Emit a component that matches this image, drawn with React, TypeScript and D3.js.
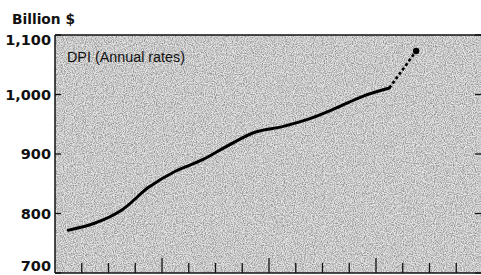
import React from "react";
import * as d3 from "d3";

const quarters = ["Q1","Q2","Q3","Q4","Q5","Q6","Q7","Q8","Q9","Q10","Q11","Q12","Q13","Q14"];
const dpiActual = [772, 784, 806, 844, 871, 890, 915, 937, 946, 959, 977, 997, 1011];
const dpiProjected = [1011, 1073];
const yTicks = [700, 800, 900, 1000, 1100];
const yTickLabels = ["700", "800", "900", "1,000", "1,100"];

const W = 481, H = 275;
const left = 55, right = 483, top = 35, bottom = 273;

export default function App() {
  const x = d3.scaleLinear().domain([0, 16]).range([left, right]);
  const y = d3.scaleLinear().domain([700, 1100]).range([bottom, top]);
  const line = d3.line<number>()
    .x((_, i) => x(i + 0.5))
    .y((d) => y(d))
    .curve(d3.curveCatmullRom.alpha(0.5));
  const projLine = d3.line<number>()
    .x((_, i) => x(i + 12.5))
    .y((d) => y(d));
  const qTicks = d3.range(1, 16);
  const last = dpiProjected[dpiProjected.length - 1];
  return (
    <svg width={W} height={H} style={{ position: "absolute", left: 0, top: 0, background: "#fff" }}>
      <defs>
        <filter id="stipple" x="0" y="0" width="100%" height="100%">
          <feTurbulence type="fractalNoise" baseFrequency="0.9" numOctaves="2" seed="3" result="n" />
          <feColorMatrix type="matrix" values="0 0 0 0 0  0 0 0 0 0  0 0 0 0 0  -1.6 0 0 0 1.05" result="a" />
          <feComposite in="a" in2="SourceGraphic" operator="in" />
        </filter>
      </defs>
      <rect x={left} y={top} width={right - left} height={bottom - top} fill="#e4e4e4" />
      <rect x={left} y={top} width={right - left} height={bottom - top} fill="#555" filter="url(#stipple)" opacity={0.5} />
      <line x1={left} x2={W} y1={top} y2={top} stroke="#111" strokeWidth={1.5} />
      <line x1={left} x2={W} y1={bottom} y2={bottom} stroke="#111" strokeWidth={1.5} />
      <line x1={left} x2={left} y1={top} y2={bottom} stroke="#111" strokeWidth={1.5} />
      {qTicks.map((q) => (
        <line key={q} x1={x(q)} x2={x(q)} y1={bottom} y2={bottom - (q % 4 === 0 ? 15 : 10)} stroke="#111" strokeWidth={1.3} />
      ))}
      {yTicks.map((t, i) => (
        <g key={t}>
          <line x1={left} x2={left + 6} y1={y(t)} y2={y(t)} stroke="#111" strokeWidth={1.3} />
          <line x1={W - 6} x2={W} y1={y(t)} y2={y(t)} stroke="#111" strokeWidth={1.3} />
          <text x={51} y={y(t) + (t === 1100 ? 5 : t === 700 ? -7 : 0)} dy="0.36em" textAnchor="end"
            fontFamily="DejaVu Sans, sans-serif" fontSize={14.5} fontWeight={600} fill="#111">{yTickLabels[i]}</text>
        </g>
      ))}
      <text x={12} y={24} fontFamily="DejaVu Sans, sans-serif" fontSize={13.5} fontWeight={700} fill="#111"
        textLength={63} lengthAdjust="spacingAndGlyphs">Billion $</text>
      <text x={67} y={62} fontFamily="Liberation Sans Narrow, Liberation Sans, sans-serif" fontSize={14}
        textLength={118} lengthAdjust="spacingAndGlyphs" fill="#111">DPI (Annual rates)</text>
      <path d={line(dpiActual) || ""} fill="none" stroke="#000" strokeWidth={3} strokeLinejoin="round" strokeLinecap="round" />
      <path d={projLine(dpiProjected) || ""} fill="none" stroke="#000" strokeWidth={2.6} strokeDasharray="3 2.5" />
      <circle cx={x(13.5)} cy={y(last)} r={3.2} fill="#000" />
    </svg>
  );
}
